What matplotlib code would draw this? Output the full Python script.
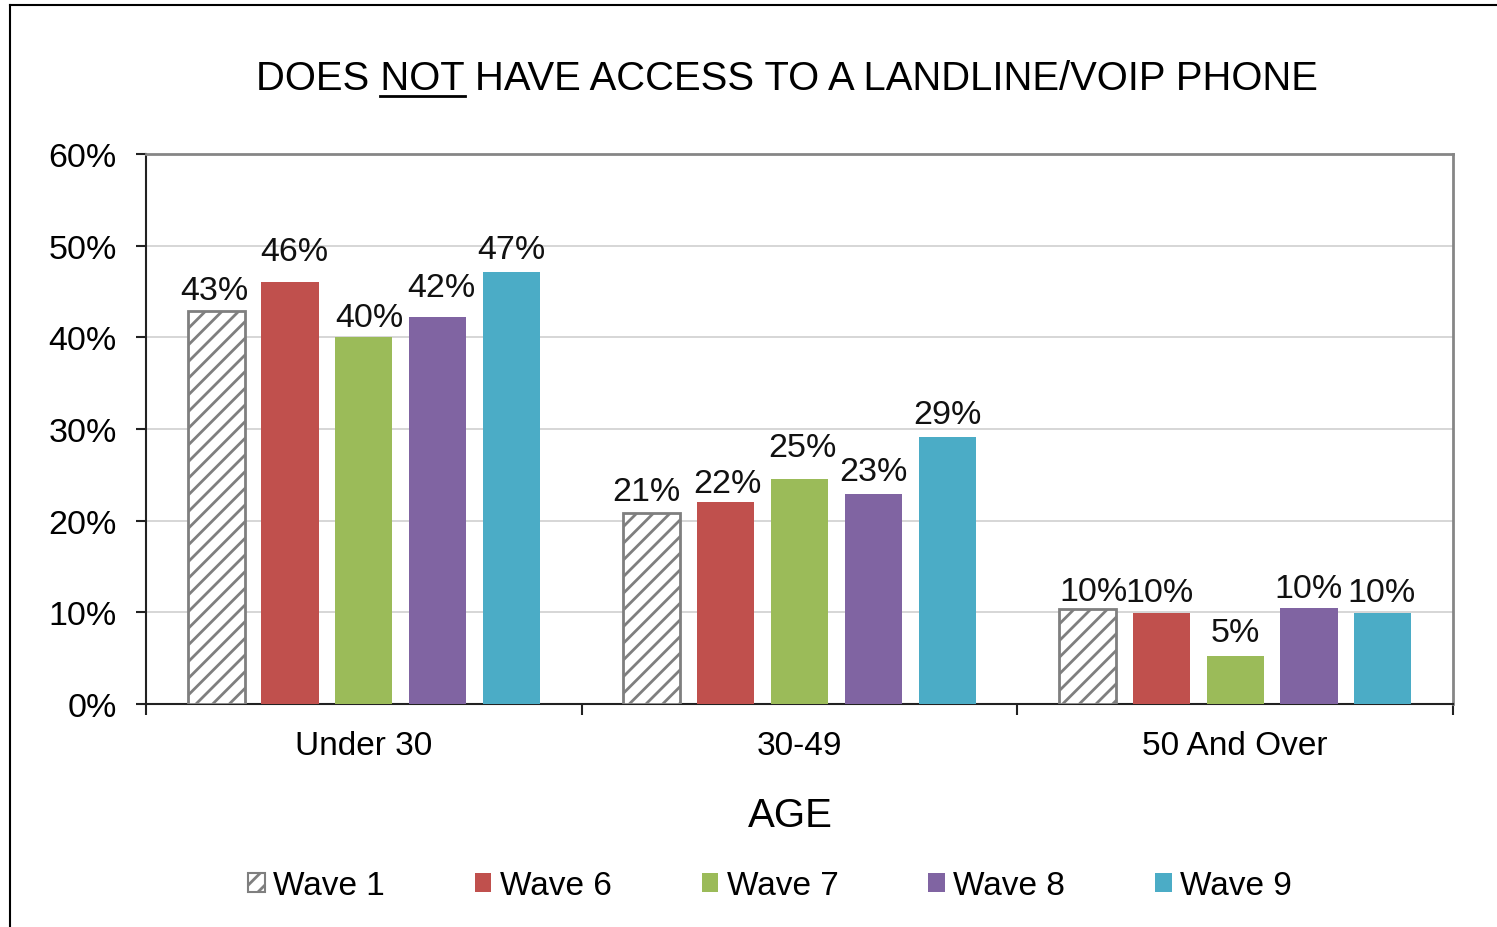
import matplotlib
matplotlib.use("Agg")
import matplotlib.pyplot as plt
import numpy as np
from matplotlib.lines import Line2D
from matplotlib.patches import Patch

categories = ["Under 30", "30-49", "50 And Over"]
series_names = ["Wave 1", "Wave 6", "Wave 7", "Wave 8", "Wave 9"]
wave1 = [42.9, 20.8, 10.4]
wave6 = [46.0, 22.0, 9.9]
wave7 = [40.0, 24.6, 5.2]
wave8 = [42.2, 22.9, 10.5]
wave9 = [47.1, 29.1, 9.9]
series_values = [wave1, wave6, wave7, wave8, wave9]
y_ticks = [0, 10, 20, 30, 40, 50, 60]
title_text = "DOES NOT HAVE ACCESS TO A LANDLINE/VOIP PHONE"
x_label = "AGE"

# label placement tweaks (pixels): [series][category]
label_dy = [[20, 22, 17], [31, 19, 21], [20, 31, 24], [30, 23, 19], [23, 23, 21]]
label_dx = [[-2, -5, 6], [4, 2, -2], [6, 3, 0], [4, 0, -1], [0, 0, -1]]

colors = [None, "#C0504D", "#9BBB59", "#8064A2", "#4BACC6"]
hatch_gray = "#7F7F7F"

plt.rcParams["font.family"] = ["Liberation Sans", "DejaVu Sans"]
plt.rcParams["hatch.linewidth"] = 2.0
plt.rcParams["hatch.color"] = hatch_gray

W, H = 1497, 928
dpi = 100
fig = plt.figure(figsize=(W / dpi, H / dpi), dpi=dpi)
ax = fig.add_axes([146 / W, 1 - 705 / H, (1453 - 146) / W, (705 - 155) / H])

x = np.arange(len(categories))
step = 0.1695
width = 0.131
offsets = (np.arange(len(series_names)) - 2) * step

for i, (name, vals) in enumerate(zip(series_names, series_values)):
    pos = x + offsets[i]
    if i == 0:
        ax.bar(pos, vals, width, facecolor="white", edgecolor=hatch_gray,
               hatch="//", linewidth=2.0, zorder=3, label=name)
    else:
        ax.bar(pos, vals, width, color=colors[i], zorder=3, label=name,
               linewidth=0)
    for j, (p, v) in enumerate(zip(pos, vals)):
        ax.annotate(f"{round(v):d}%", (p, v), xytext=(label_dx[i][j], label_dy[i][j]),
                    textcoords="offset pixels", ha="center", va="center",
                    fontsize=24.5, color="#111111", zorder=4)

ax.set_xlim(-0.5, 2.5)
ax.set_ylim(0, 60)
ax.set_yticks(y_ticks)
ax.set_yticklabels([f"{t}%" for t in y_ticks], fontsize=24.5)
ax.yaxis.grid(True, color="#D0D0D0", linewidth=1.2, zorder=0)
ax.set_axisbelow(True)

ax.set_xticks(x)
ax.set_xticklabels(categories, fontsize=24)
ax.tick_params(axis="x", which="major", length=0, pad=19)
ax.set_xticks([-0.5, 0.5, 1.5, 2.5], minor=True)
ax.tick_params(axis="x", which="minor", length=8, width=1.5, color="#222222", direction="out")
ax.tick_params(axis="y", length=7, width=1.5, color="#222222", pad=14)

for s in ["top", "right"]:
    ax.spines[s].set_color("#868686")
    ax.spines[s].set_linewidth(2)
for s in ["left", "bottom"]:
    ax.spines[s].set_color("#222222")
    ax.spines[s].set_linewidth(1.5)

# axis title
fig.text(790 / W, 1 - 816 / H, x_label, ha="center", va="center", fontsize=29)

# chart title with underlined NOT
title_fs = 28.8
tx, ty = 787 / W, 1 - 79 / H
t = fig.text(tx, ty, title_text, ha="center", va="center", fontsize=title_fs)
fig.canvas.draw()
r = fig.canvas.get_renderer()
bb = t.get_window_extent(r)
def wtext(s):
    tmp = fig.text(0, 0, s, fontsize=title_fs)
    w = tmp.get_window_extent(r).width
    tmp.remove()
    return w
w_dn = wtext("DOES NOT")
w_n = wtext("NOT")
x_start = bb.x0 + w_dn - w_n
x_end = bb.x0 + w_dn
uy = H - 97
fig.add_artist(Line2D([x_start / W, x_end / W], [uy / H, uy / H],
                      transform=fig.transFigure, color="black", linewidth=2))

# legend
handles = [Patch(facecolor="white", edgecolor=hatch_gray, hatch="//", linewidth=1.5)] + \
          [Patch(facecolor=c, edgecolor="none") for c in colors[1:]]
leg = fig.legend(handles, series_names, loc="center", bbox_to_anchor=(770 / W, 1 - 887 / H),
                 ncol=5, frameon=False, fontsize=24, handlelength=0.5, handleheight=0.5,
                 handletextpad=0.25, columnspacing=2.7)

# outer frame
fig.add_artist(Line2D([10 / W, 10 / W], [0, 1 - 6 / H], transform=fig.transFigure,
                      color="black", linewidth=1.5))
fig.add_artist(Line2D([10 / W, 1], [1 - 6 / H, 1 - 6 / H], transform=fig.transFigure,
                      color="black", linewidth=1.5))

fig.savefig("out.png", dpi=dpi)
